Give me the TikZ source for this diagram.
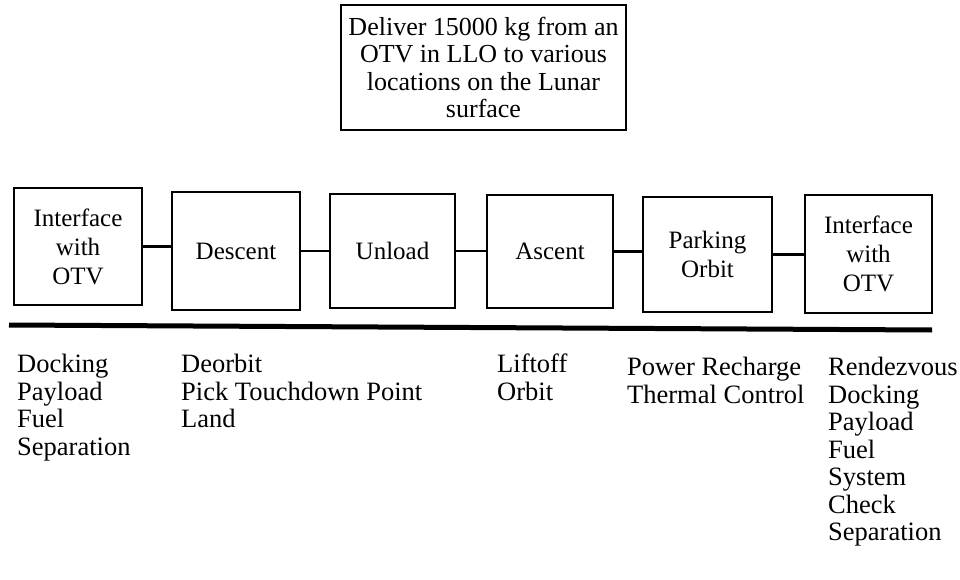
\documentclass[tikz,border=0pt]{standalone}
\usepackage{fontspec}
\setmainfont{Liberation Serif}
\begin{document}
\begin{tikzpicture}[x=1pt,y=-1pt,
  stage/.style={draw,line width=2.8pt,align=center,inner sep=0pt,font=\fontsize{25}{29}\selectfont},
  goal/.style={draw,line width=2.2pt,align=center,inner sep=0pt,font=\fontsize{26}{27.5}\selectfont},
  link/.style={line width=2.8pt},
  task/.style={anchor=north west,align=left,inner sep=0pt,font=\fontsize{26.5}{27.5}\selectfont}]
\useasboundingbox (0,0) rectangle (960,580);
\node[goal,minimum width=285pt,minimum height=125pt] (g) at (483.5,67.5)
  {Deliver 15000 kg from an\\OTV in LLO to various\\locations on the Lunar\\surface};
\node[stage,minimum width=128pt,minimum height=117pt] (s1) at (78,246.5) {Interface\\with\\OTV};
\node[stage,minimum width=128pt,minimum height=118pt] (s2) at (236,251) {Descent};
\node[stage,minimum width=125pt,minimum height=114pt] (s3) at (392.5,251) {Unload};
\node[stage,minimum width=126pt,minimum height=113pt] (s4) at (550,251.5) {Ascent};
\node[stage,minimum width=129pt,minimum height=115pt] (s5) at (707.5,254.5) {Parking\\Orbit};
\node[stage,minimum width=127pt,minimum height=118pt] (s6) at (868.5,254) {Interface\\with\\OTV};
\draw[link] (s1.east) -- (s1.east -| s2.west);
\draw[link] (s2.east) -- (s2.east -| s3.west);
\draw[link] (s3.east) -- (s3.east -| s4.west);
\draw[link] (s4.east) -- (s4.east -| s5.west);
\draw[link] (s5.east) -- (s5.east -| s6.west);
\coordinate (la) at (9,325);
\coordinate (lb) at (932,330);
\draw[line width=5pt] (la) -- (lb);
\node[task] (t1) at (17,354) {Docking\\Payload\\Fuel\\Separation};
\node[task] (t2) at (181,354) {Deorbit\\Pick Touchdown Point\\Land};
\node[task] (t4) at (497,354) {Liftoff\\Orbit};
\node[task] (t5) at (627,357) {Power Recharge\\Thermal Control};
\node[task] (t6) at (828,357) {Rendezvous\\Docking\\Payload\\Fuel\\System\\Check\\Separation};
\end{tikzpicture}
\end{document}
